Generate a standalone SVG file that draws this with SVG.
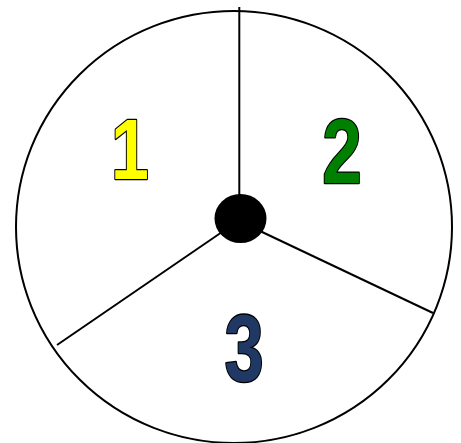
<svg xmlns="http://www.w3.org/2000/svg" width="461" height="443" viewBox="0 0 461 443">
<style>
.num{font-family:"Liberation Sans",Arial,sans-serif;font-weight:bold;text-anchor:middle;stroke:#000;stroke-width:2.5;paint-order:stroke;stroke-linejoin:round}
.ln{stroke:#000;stroke-width:2;fill:none}
</style>
<rect width="461" height="443" fill="#fff"/>
<g id="wheel">
<ellipse cx="234" cy="227" rx="218" ry="216" class="ln"/>
</g>
<g id="connectors">
<line x1="239.3" y1="7" x2="239.3" y2="205" class="ln"/>
<line x1="222" y1="232" x2="57" y2="345" class="ln"/>
<line x1="260" y1="231" x2="433" y2="313" class="ln"/>
</g>
<g id="hub">
<ellipse cx="240.5" cy="218.5" rx="26" ry="24.5" fill="#000"/>
</g>
<g id="label1"><text class="num" transform="translate(130,179) scale(0.8,1)" font-size="85" fill="#FFFF00">1</text></g>
<g id="label2"><text class="num" transform="translate(342,183) scale(0.78,1)" font-size="91" fill="#008000">2</text></g>
<g id="label3"><text class="num" transform="translate(244,381) scale(0.75,1)" font-size="94" fill="#1F3864">3</text></g>
</svg>
